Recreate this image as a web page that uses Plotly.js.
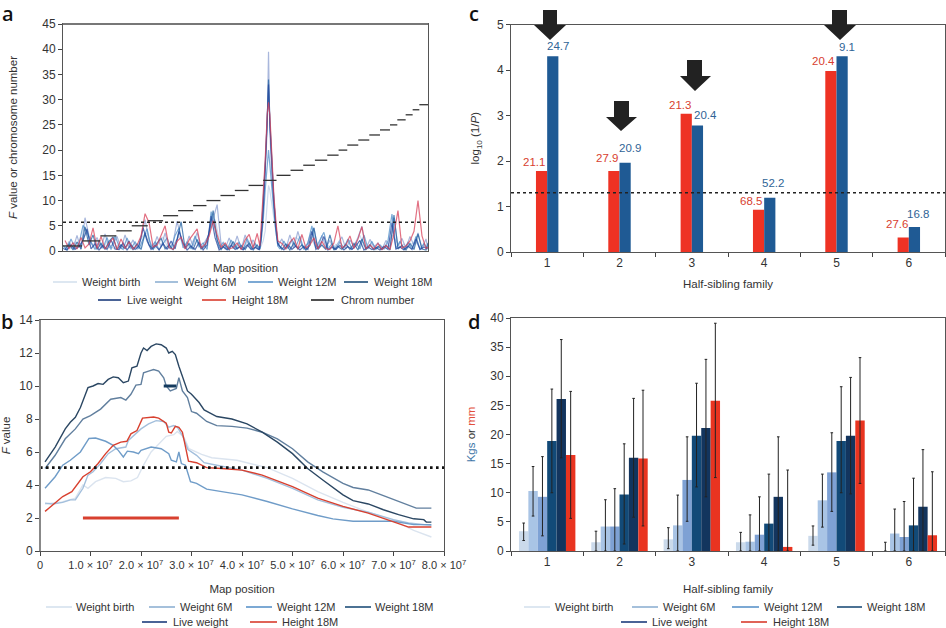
<!DOCTYPE html>
<html>
<head>
<meta charset="utf-8">
<script src="https://cdn.plot.ly/plotly-3.0.1.min.js"></script>
<style>
  html, body { margin: 0; padding: 0; background: #fff; }
  #chart { width: 946px; height: 628px; }
</style>
</head>
<body>
<div id="chart"></div>
<script>
// ----- shared names and colours -----
const seriesNames = ["Weight birth", "Weight 6M", "Weight 12M", "Weight 18M", "Live weight", "Height 18M"];
const lineColors  = ["#d5e1ee", "#8fb0d2", "#5b94c9", "#1f4e79", "#1c3b7c", "#d93b2c"];
const INK = "#333333";
const FONT = '"Liberation Sans", Arial, sans-serif';

// ----- panel a: genome scan (map position index, F value) -----
// two sampling grids, the traces were not sampled at the same markers
const aPosA = [
  0,12,24,36,48,60,72,84,96,108,120,132,144,156,168,180,192,204,216,228,
  240,252,264,276,288,300,312,324,336,348,360,372,384,396,408,420,432,444,456,468,
  480,492,504,516,528,540,552,564,576,588,
  594,600,606,612,616,620,626,632,638,644,
  650,662,674,686,698,710,722,734,746,758,
  770,782,794,806,818,830,842,854,866,878,
  890,902,914,926,938,950,962,974,986,998,
  1010,1022,1034,1046,1058,1070,1082,1092
];
const aPosB = [
  6,18,30,42,54,66,78,90,102,114,126,138,150,162,174,186,198,210,222,234,
  246,258,270,282,294,306,318,330,342,354,366,378,390,402,414,426,438,450,462,474,
  486,498,510,522,534,546,558,570,582,590,
  594,600,606,612,616,620,626,632,638,644,
  656,668,680,692,704,716,728,740,752,764,
  776,788,800,812,824,836,848,860,872,884,
  896,908,920,932,944,956,968,980,992,1004,
  1016,1028,1040,1052,1064,1076,1088,1094
];
const aBirth = [
  0.6,1.2,0.5,1.8,0.9,2.4,3.8,1.6,0.7,1.4,
  0.5,1.9,0.8,0.4,1.5,0.6,1.1,0.4,0.7,1.6,
  3.1,3.6,1.4,0.6,1.7,2.8,1.0,0.5,1.8,2.9,
  1.2,0.7,1.5,2.6,1.4,0.6,2.2,5.5,6.2,2.3,
  0.9,0.5,1.4,0.6,1.1,0.4,1.8,2.1,0.8,0.4,
  1,2,4,9,13,12,9,6,3,1,
  0.8,0.5,1.3,0.6,2.8,1.9,0.9,1.5,2.2,0.7,
  1.4,0.6,1.1,0.5,1.3,0.4,0.9,2.0,0.6,1.6,
  3.1,1.0,0.4,1.4,0.7,0.9,0.4,1.0,3.2,2.1,
  0.8,1.4,0.6,1.5,1.7,0.6,1.2,0.4
];
const a6M = [
  0.2,1.9,0.4,3.1,0.3,6.6,3.0,0.8,2.7,0.5,
  3.4,0.6,1.4,2.9,0.4,3.2,0.7,2.2,0.3,2.6,
  6.2,2.1,0.5,2.9,0.8,3.6,0.4,1.7,5.9,2.4,
  0.6,3.0,1.0,3.7,0.5,2.0,3.3,6.4,9.2,1.2,
  0.4,2.6,0.5,3.0,0.3,3.2,0.9,2.2,0.4,0.3,
  2,8,15,24,39.5,24,14,9,4,1,
  2.4,0.4,3.2,0.6,3.9,1.0,0.3,3.0,4.6,0.5,
  3.1,0.7,2.1,0.3,1.7,2.8,0.4,2.2,0.9,2.7,
  4.9,0.4,2.3,0.8,1.6,0.3,2.1,0.7,6.6,0.9,
  2.5,0.5,2.9,1.1,3.6,0.4,2.4,0.3
];
const a12M = [
  1.1,0.2,2.4,0.5,1.4,5.1,3.8,1.7,0.3,2.0,
  0.6,2.7,0.3,3.0,0.9,0.3,2.6,0.5,1.8,0.4,
  2.4,4.4,0.7,1.8,0.3,1.4,2.6,0.4,3.1,4.6,
  0.6,1.8,0.4,3.0,0.8,1.6,0.3,7.8,4.0,0.5,
  1.7,0.3,2.2,0.6,1.7,0.3,2.5,0.4,1.5,0.2,
  2,6,12,16,20,17,12,8,4,1,
  0.4,2.0,0.5,2.3,0.8,2.9,0.3,1.6,5.0,0.6,
  2.2,3.7,0.4,1.4,0.3,1.8,0.6,2.4,0.3,1.6,
  0.4,3.2,0.5,1.9,0.3,1.2,0.4,2.0,7.3,0.5,
  1.9,0.3,1.7,0.4,2.9,0.3,1.5,0.5
];
const a18M = [
  0.3,1.4,0.2,1.8,0.4,4.8,1.2,3.2,0.3,1.5,
  0.3,1.9,2.8,0.3,1.2,0.5,2.0,0.2,1.4,0.3,
  3.6,1.2,0.3,1.6,2.5,0.4,1.2,0.2,2.4,5.8,
  0.5,1.5,0.3,2.3,0.4,1.1,3.6,8.0,2.2,0.3,
  1.3,0.2,1.9,0.4,1.1,0.3,1.6,0.2,1.2,0.4,
  3,9,17,26,34,26,17,10,5,1.5,
  0.3,1.4,0.2,1.6,0.4,1.2,0.2,1.1,4.6,0.3,
  1.2,0.3,3.2,0.2,1.0,0.3,1.3,0.3,1.5,0.2,
  2.4,0.3,1.2,0.2,0.9,0.3,1.1,0.2,7.1,0.4,
  1.1,0.2,1.5,0.3,3.4,0.4,0.2,1.6
];
const aLive = [
  0.5,0.2,1.2,0.3,0.9,2.1,4.4,0.4,1.4,0.2,
  1.1,0.3,2.2,0.4,0.3,1.6,0.2,1.2,0.3,1.0,
  4.6,2.0,0.3,1.1,0.2,1.5,0.3,2.0,0.4,3.9,
  1.6,0.2,1.0,0.3,1.7,0.2,1.2,6.9,2.6,0.2,
  0.9,0.2,1.1,0.3,0.8,0.2,1.2,0.3,0.7,0.3,
  3,8,16,25,33,25,16,10,5,1.5,
  0.9,0.2,1.2,0.3,1.0,0.2,0.9,0.3,3.9,0.3,
  1.0,2.9,0.2,0.8,0.3,1.1,0.2,0.9,0.3,1.0,
  2.1,0.2,0.8,0.3,0.7,0.2,0.9,0.3,5.6,0.4,
  0.8,0.2,1.0,0.3,2.4,0.3,0.8,0.4
];
const aHeight = [
  2.1,0.5,1.6,0.4,2.7,0.6,1.4,4.6,0.5,2.9,
  0.4,1.6,2.6,0.3,2.4,0.5,1.8,0.4,1.2,3.0,
  7.4,5.6,0.8,1.2,3.0,5.0,0.7,0.3,1.9,2.7,
  0.4,2.2,3.3,4.4,0.6,1.3,2.9,6.0,3.2,0.7,
  1.6,0.4,0.7,1.6,0.3,2.2,3.3,0.6,3.5,1.0,
  5,11,18,27,29.5,27,18,11,6,2,
  1.5,0.4,1.7,2.6,0.4,3.3,0.6,1.2,2.6,0.4,
  1.9,0.5,0.3,1.6,5.0,0.6,1.2,3.0,0.5,2.4,
  4.8,0.4,1.2,0.4,1.5,0.3,1.1,0.3,3.4,8.0,
  0.6,1.0,2.0,3.9,10.0,3.0,0.5,0.8
];
// chromosome boundaries on the same position scale; chromosome n spans edge n-1 .. edge n
const chromEdges = [0,57,112,160,206,254,300,345,390,430,472,515,556,600,640,682,720,755,792,826,852,885,918,950,980,1002,1027,1048,1068,1094];
const aThreshold = 5.7;

// ----- panel b: chromosome 14 detail (position in units of 1e7, F value) -----
const bBirthX = [0.1,0.4,0.7,0.85,0.95,1.1,1.3,1.5,1.65,1.8,1.93,2.05,2.2,2.35,2.5,2.65,2.72,2.85,2.95,3.2,3.4,3.9,4.5,5.0,5.5,6.0,6.5,7.0,7.4,7.75];
const bBirthY = [2.85,2.95,3.2,4.0,3.8,4.2,4.45,4.4,4.2,4.25,4.45,5.2,6.0,6.5,6.95,7.05,7.25,6.9,6.2,5.85,5.65,5.5,5.05,4.4,3.6,2.95,2.35,1.85,1.25,0.85];
const b6X = [0.1,0.25,0.45,0.6,0.7,0.85,0.95,1.05,1.2,1.35,1.5,1.7,1.75,1.85,2.0,2.15,2.3,2.45,2.55,2.65,2.72,2.82,2.93,3.1,3.25,3.5,4.0,4.5,5.0,5.5,6.0,6.5,7.0,7.3,7.75];
const b6Y = [2.9,2.85,2.95,3.1,3.1,3.8,4.6,4.8,5.3,5.9,6.2,6.3,6.7,7.0,7.4,7.7,7.9,7.85,7.5,7.6,7.5,7.0,6.15,5.8,5.35,5.2,4.9,4.4,3.8,3.1,2.65,2.35,1.9,1.7,1.55];
const b12X = [0.1,0.3,0.45,0.6,0.8,0.9,0.97,1.1,1.3,1.45,1.55,1.65,1.73,1.85,1.95,2.0,2.2,2.4,2.55,2.6,2.7,2.75,2.8,2.88,2.98,3.1,3.3,3.6,4.0,4.5,5.0,5.5,5.8,6.2,7.0,7.4,7.75];
const b12Y = [3.8,4.5,5.2,5.5,6.0,6.5,6.82,6.85,6.65,6.4,6.1,5.7,6.05,6.0,5.9,6.1,6.3,6.2,5.9,5.5,5.4,6.0,5.3,5.2,4.2,4.1,3.75,3.6,3.4,3.0,2.55,2.15,1.95,1.8,1.8,1.6,1.6];
const b18X = [0.1,0.3,0.5,0.7,0.85,1.0,1.2,1.4,1.6,1.7,1.8,1.9,2.0,2.05,2.15,2.25,2.35,2.45,2.5,2.58,2.7,2.75,2.82,2.92,3.0,3.1,3.3,3.5,3.8,4.1,4.4,4.7,5.0,5.3,5.6,6.0,6.2,6.5,6.8,7.1,7.3,7.45,7.75];
const b18Y = [5.0,5.8,6.8,7.4,8.0,8.2,8.6,9.2,9.3,9.15,9.5,10.05,10.1,10.8,10.9,11.0,10.9,10.5,10.0,9.7,9.85,10.5,9.7,9.3,8.45,8.35,7.85,7.6,7.55,7.45,7.2,6.8,6.2,5.4,4.8,4.1,3.85,3.7,3.35,3.0,2.75,2.6,2.6];
const bLiveX = [0.1,0.3,0.5,0.6,0.7,0.8,0.9,0.95,1.05,1.15,1.25,1.35,1.45,1.55,1.65,1.75,1.82,1.92,2.0,2.05,2.12,2.2,2.3,2.4,2.5,2.55,2.62,2.68,2.75,2.82,2.92,3.0,3.15,3.25,3.5,3.8,4.1,4.4,4.7,5.0,5.3,5.6,6.0,6.2,6.5,6.8,7.1,7.4,7.6,7.65,7.75];
const bLiveY = [5.4,6.3,7.4,7.8,8.1,8.7,9.5,9.9,10.0,10.15,10.1,10.4,10.55,10.5,10.2,10.3,11.1,11.2,12.0,12.3,12.15,12.4,12.55,12.5,12.3,12.0,12.1,11.9,11.2,10.6,9.7,9.5,9.0,8.55,8.15,8.0,7.7,7.2,6.6,5.9,5.0,4.3,3.4,3.05,2.85,2.5,2.2,1.95,1.9,1.75,1.75];
const bHeightX = [0.1,0.3,0.45,0.63,0.8,0.85,1.0,1.15,1.3,1.45,1.6,1.72,1.8,1.92,2.03,2.15,2.25,2.35,2.5,2.55,2.6,2.68,2.75,2.82,2.88,2.94,3.1,3.3,3.6,4.0,4.4,5.0,5.5,6.0,6.5,7.0,7.3,7.75];
const bHeightY = [2.4,2.9,3.3,3.6,4.3,4.5,4.8,5.3,5.9,6.4,6.6,6.65,7.1,7.3,8.05,8.08,8.12,8.05,7.75,7.2,7.15,7.55,7.5,7.2,6.3,5.45,5.35,5.05,5.0,4.9,4.6,3.9,3.2,2.7,2.3,1.75,1.45,1.45];
const bThreshold = 5.05;
const bBarLiveX = [2.45, 2.7];
const bBarHeightX = [0.85, 2.75];
const bTickVals = [0,1,2,3,4,5,6,7,8];
const bTickText = ["0","1.0 × 10<sup>7</sup>","2.0 × 10<sup>7</sup>","3.0 × 10<sup>7</sup>","4.0 × 10<sup>7</sup>","5.0 × 10<sup>7</sup>","6.0 × 10<sup>7</sup>","7.0 × 10<sup>7</sup>","8.0 × 10<sup>7</sup>"];

// ----- panel c: log10(1/P) per half-sibling family -----
const families = [1,2,3,4,5,6];
const cRed  = [1.78,1.78,3.04,0.93,3.98,0.32];
const cBlue = [4.30,1.96,2.78,1.19,4.30,0.55];
const cRedLabels  = ["21.1","27.9","21.3","68.5","20.4","27.6"];
const cBlueLabels = ["24.7","20.9","20.4","52.2","9.1","16.8"];
const cThreshold = 1.3;

// ----- panel d: means with upper and lower whisker ends -----
const dMeans = [
  [3.4,1.5,2.0,1.5,2.6,0],
  [10.3,4.2,4.4,1.6,8.7,3.0],
  [9.3,4.2,12.2,2.8,13.5,2.4],
  [18.9,9.7,19.8,4.7,18.9,4.4],
  [26.1,16.0,21.1,9.3,19.8,7.6],
  [16.5,15.9,25.8,0.7,22.4,2.7]
];
const dUpper = [
  [4.8,3.4,4.0,3.2,4.3,1.5],
  [14.5,8.8,9.6,6.2,13.2,7.2],
  [16.2,10.7,19.6,9.3,20.3,8.5],
  [27.8,18.4,28.8,13.2,28.2,12.5],
  [36.3,26.2,32.9,19.6,29.8,17.4],
  [27.4,27.6,39.1,13.9,33.2,13.6]
];
const dLower = [
  [1.8,0,0.4,0,1.0,0],
  [6.0,0,0,0,4.1,0],
  [2.6,0,5.1,0,6.8,0],
  [10.0,1.2,11.0,0,10.0,0],
  [16.0,5.8,9.3,0,9.8,0],
  [5.6,4.3,12.6,0,11.6,0]
];
const dBarColors = ["#cbdaeb", "#a9c4e5", "#7ea1d4", "#124a78", "#13355e", "#e93420"];

// ----- layout helpers: reference pixels to paper fractions -----
const W = 946, H = 628;
const px = x => x / W;
const py = y => 1 - y / H;
const domX = (a, b) => [a / W, b / W];
const domY = (top, bottom) => [1 - bottom / H, 1 - top / H];

function axisBase(extra) {
  return Object.assign({
    showgrid: false, zeroline: false, showline: true, mirror: true,
    linecolor: "#555", linewidth: 1, ticks: "outside", ticklen: 4, tickwidth: 1,
    tickcolor: "#444", tickfont: { family: FONT, size: 12, color: INK }, fixedrange: true
  }, extra);
}
function axisTitle(text, standoff) {
  return { text: text, standoff: standoff, font: { family: FONT, size: 11.5, color: INK } };
}

const traces = [];

// ----- 1. panel a -----
[[aBirth, aPosA], [a6M, aPosB], [a12M, aPosA], [a18M, aPosB], [aLive, aPosA], [aHeight, aPosB]].forEach((s, i) => {
  traces.push({
    type: "scatter", mode: "lines", x: s[1], y: s[0], xaxis: "x", yaxis: "y",
    name: seriesNames[i], showlegend: false, opacity: i === 0 ? 1 : 0.75,
    line: { color: ["#cfdcee", "#8c9fd0", "#4f8fc9", "#1f5f9f", "#24459c", "#d8425a"][i], width: 1.2 }
  });
});
// chromosome steps as one line broken by gaps
const chromX = [], chromY = [];
chromEdges.slice(1).forEach((end, i) => {
  chromX.push(chromEdges[i], end, null);
  chromY.push(i + 1, i + 1, null);
});
traces.push({
  type: "scatter", mode: "lines", x: chromX, y: chromY, xaxis: "x", yaxis: "y",
  name: "Chrom number", showlegend: false, line: { color: "#333", width: 1.3 }
});
traces.push({
  type: "scatter", mode: "lines", x: [0, 1094], y: [aThreshold, aThreshold], xaxis: "x", yaxis: "y",
  showlegend: false, line: { color: "#222", width: 1.5, dash: "3px,3px" }
});

// ----- 2. panel b -----
const bColors = ["#dbe4ef", "#a3bfdc", "#6f9cc8", "#617f9e", "#2b4763", "#d8402f"];
[[bBirthX, bBirthY], [b6X, b6Y], [b12X, b12Y], [b18X, b18Y], [bLiveX, bLiveY], [bHeightX, bHeightY]].forEach((s, i) => {
  traces.push({
    type: "scatter", mode: "lines", x: s[0], y: s[1], xaxis: "x2", yaxis: "y2",
    name: seriesNames[i], showlegend: false, line: { color: bColors[i], width: 1.4 }
  });
});
traces.push({
  type: "scatter", mode: "lines", x: [0, 8], y: [bThreshold, bThreshold], xaxis: "x2", yaxis: "y2",
  showlegend: false, line: { color: "#111", width: 2.6, dash: "2.6px,3.4px" }
});
traces.push({
  type: "scatter", mode: "lines", x: bBarLiveX, y: [10, 10], xaxis: "x2", yaxis: "y2",
  showlegend: false, line: { color: "#143a5e", width: 3 }
});
traces.push({
  type: "scatter", mode: "lines", x: bBarHeightX, y: [2, 2], xaxis: "x2", yaxis: "y2",
  showlegend: false, line: { color: "#d8402f", width: 3 }
});

// ----- 3. panel c: explicit width/offset because bargap is shared by all subplots -----
const cBarW = 0.155;
traces.push({
  type: "bar", x: families, y: cRed, xaxis: "x3", yaxis: "y3", width: cBarW, offset: -cBarW,
  marker: { color: "#ee3224" }, showlegend: false
});
traces.push({
  type: "bar", x: families, y: cBlue, xaxis: "x3", yaxis: "y3", width: cBarW, offset: 0,
  marker: { color: "#1f5a94" }, showlegend: false
});
traces.push({
  type: "scatter", mode: "lines", x: [0.5, 6.5], y: [cThreshold, cThreshold], xaxis: "x3", yaxis: "y3",
  showlegend: false, line: { color: "#222", width: 1.5, dash: "3px,3px" }
});

// ----- 4. panel d -----
const dBarW = 0.13;
dMeans.forEach((vals, i) => {
  traces.push({
    type: "bar", x: families, y: vals, xaxis: "x4", yaxis: "y4", name: seriesNames[i],
    width: dBarW, offset: -3 * dBarW + i * dBarW, marker: { color: dBarColors[i] }, showlegend: false,
    error_y: {
      type: "data", symmetric: false,
      array: dUpper[i].map((u, k) => Math.max(u - vals[k], 0)),
      arrayminus: dLower[i].map((l, k) => Math.max(vals[k] - l, 0)),
      color: "#222", thickness: 1, width: 1.3
    }
  });
});

// ----- 5. annotations -----
const annotations = [];
[["a", 8, 14], ["b", 7, 321], ["c", 474, 14], ["d", 474, 321]].forEach(l => {
  annotations.push({
    text: l[0], xref: "paper", yref: "paper", x: px(l[1]), y: py(l[2]), showarrow: false,
    xanchor: "center", yanchor: "middle", font: { family: "Open Sans, Liberation Sans, sans-serif", size: 20, color: "#111", weight: 600 }
  });
});
// value labels above the bars of panel c (pixel offsets from each bar top)
const cRedDx  = [-8,-7,-6,-8,-7,-6],  cRedDy  = [9,13,9,9,10,13];
const cBlueDx = [5,5,8,3,5,4],        cBlueDy = [10,15,11,15,9,13];
families.forEach((f, i) => {
  annotations.push({
    text: cRedLabels[i], xref: "x3", yref: "y3", x: f - cBarW / 2, y: cRed[i], xshift: cRedDx[i], yshift: cRedDy[i],
    showarrow: false, xanchor: "center", yanchor: "middle", font: { family: FONT, size: 11.5, color: "#d8402f" }
  });
  annotations.push({
    text: cBlueLabels[i], xref: "x3", yref: "y3", x: f + cBarW / 2, y: cBlue[i], xshift: cBlueDx[i], yshift: cBlueDy[i],
    showarrow: false, xanchor: "center", yanchor: "middle", font: { family: FONT, size: 11.5, color: "#2f6496" }
  });
});

// ----- 6. hand-placed legends (key line + text) -----
const shapes = [];
function addLegend(names, colors, keys) {
  keys.forEach((k, i) => {
    shapes.push({
      type: "line", xref: "paper", yref: "paper", x0: px(k[0]), x1: px(k[1]), y0: py(k[3]), y1: py(k[3]),
      line: { color: colors[i], width: 1.6 }
    });
    annotations.push({
      text: names[i], xref: "paper", yref: "paper", x: px(k[2]), y: py(k[3]), showarrow: false,
      xanchor: "left", yanchor: "middle", font: { family: FONT, size: 11, color: INK }
    });
  });
}
addLegend(seriesNames.concat(["Chrom number"]), lineColors.concat(["#222"]), [
  [53,77,80,282],[155,178,182,282],[248,273,276,282],[344,368,372,282],
  [98,121,125,300],[202,226,230,300],[311,334,339,300]
]);
addLegend(seriesNames, lineColors, [
  [46,72,74,607],[149,175,178,607],[246,272,275,607],[345,371,373,607],
  [142,167,171,622],[250,277,280,622]
]);
addLegend(seriesNames, lineColors, [
  [524,550,553,607],[632,658,661,607],[732,759,762,607],[837,862,865,607],
  [621,647,650,622],[741,767,771,622]
]);

// heavier grey edges seen on panels a and b
shapes.push({ type: "line", xref: "paper", yref: "paper", x0: px(63), x1: px(428), y0: py(24), y1: py(24), line: { color: "#777", width: 2 } });
shapes.push({ type: "line", xref: "paper", yref: "paper", x0: px(40), x1: px(40), y0: py(320), y1: py(551), line: { color: "#888", width: 2 } });

// block arrows of panel c: [shaft left, shaft right, head left, head right, tip x, top, shoulder, tip y]
[[543,557,534,566,550,10,25,40],[614,629,606,637,621,101,117,131],[687,702,680,711,695,60,76,91],[832,847,824,856,840,10,25,40]].forEach(a => {
  const p = (x, y) => px(x) + "," + py(y);
  shapes.push({
    type: "path", xref: "paper", yref: "paper", fillcolor: "#222", line: { width: 0 },
    path: "M" + p(a[0], a[5]) + " L" + p(a[1], a[5]) + " L" + p(a[1], a[6]) + " L" + p(a[3], a[6]) +
          " L" + p(a[4], a[7]) + " L" + p(a[2], a[6]) + " L" + p(a[0], a[6]) + " Z"
  });
});

// ----- 7. layout -----
const famTicks = {
  tickmode: "array", tickvals: families, ticktext: families.map(String), ticks: "",
  minor: { tickmode: "array", tickvals: [0.5,1.5,2.5,3.5,4.5,5.5,6.5], ticks: "outside", ticklen: 4, tickcolor: "#444", showgrid: false }
};
const layout = {
  width: W, height: H, margin: { l: 0, r: 0, t: 0, b: 0 }, showlegend: false,
  paper_bgcolor: "#fff", plot_bgcolor: "#fff", font: { family: FONT, color: INK },
  barmode: "overlay",
  xaxis: axisBase({ domain: domX(63, 428), range: [0, 1094], showticklabels: false, ticks: "", anchor: "y",
    title: axisTitle("Map position", 12) }),
  yaxis: axisBase({ domain: domY(24, 251), range: [0, 45], dtick: 5, anchor: "x",
    title: axisTitle("<i>F</i> value or chromosome number", 22) }),
  xaxis2: axisBase({ domain: domX(40, 444), range: [0, 8], tickmode: "array", tickvals: bTickVals, ticktext: bTickText, anchor: "y2",
    tickfont: { family: FONT, size: 11, color: INK }, title: axisTitle("Map position", 14) }),
  yaxis2: axisBase({ domain: domY(320, 551), range: [0, 14], dtick: 2, anchor: "x2",
    title: axisTitle("<i>F</i> value", 8) }),
  xaxis3: axisBase(Object.assign({ domain: domX(511, 945), range: [0.5, 6.5], anchor: "y3",
    title: axisTitle("Half-sibling family", 10) }, famTicks)),
  yaxis3: axisBase({ domain: domY(24.5, 252), range: [0, 5], dtick: 1, anchor: "x3",
    title: axisTitle("log<sub>10</sub> (1/<i>P</i>)", 14) }),
  xaxis4: axisBase(Object.assign({ domain: domX(511, 945), range: [0.5, 6.5], anchor: "y4",
    title: axisTitle("Half-sibling family", 16) }, famTicks)),
  yaxis4: axisBase({ domain: domY(318, 551), range: [0, 40], dtick: 5, anchor: "x4",
    title: axisTitle('<span style="color:#3f77a8">Kgs</span> or <span style="color:#e2503c">mm</span>', 12) }),
  annotations: annotations,
  shapes: shapes
};

Plotly.newPlot("chart", traces, layout, { displayModeBar: false, staticPlot: true });
</script>
</body>
</html>
